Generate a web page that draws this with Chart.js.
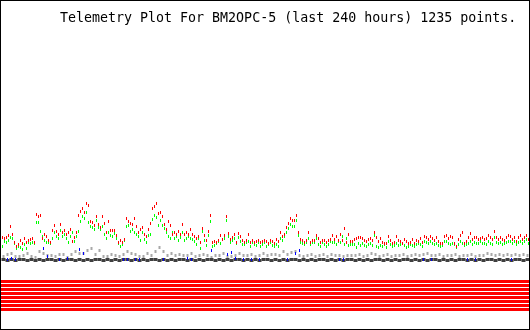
<!DOCTYPE html>
<html>
<head>
<meta charset="utf-8">
<script src="https://cdn.jsdelivr.net/npm/chart.js@4.4.1/dist/chart.umd.min.js"></script>
<style>
    html, body { margin: 0; padding: 0; background: #fff; }
    #frame {
        position: relative;
        width: 530px;
        height: 330px;
        box-sizing: border-box;
        border: 1px solid #000;
        background: #fff;
    }
    #chart-box { position: absolute; left: 0; top: 0; width: 528px; height: 328px; }
    #plot-title {
        position: absolute;
        left: 59px;
        top: 9px;
        font-family: "DejaVu Sans Mono", monospace;
        font-size: 13.3px;
        line-height: 16px;
        color: #000;
        white-space: pre;
    }
</style>
</head>
<body>
<div id="frame">
    <div id="chart-box"><canvas id="telemetry-chart"></canvas></div>
    <div id="plot-title">Telemetry Plot For BM2OPC-5 (last 240 hours) 1235 points.</div>
</div>
<script>
const HOURS = 240;

// analog channel 1 (red)
const redValues = [
    91, 90, 91, 93, 102, 94, 86, 82, 84, 88,
    85, 90, 86, 88, 89, 90, 86, 114, 112, 113,
    90, 94, 92, 88, 86, 98, 103, 97, 94, 104,
    96, 98, 94, 96, 99, 87, 91, 96, 113, 117,
    120, 116, 125, 123, 107, 106, 103, 112, 104, 101,
    112, 105, 96, 107, 98, 98, 98, 93, 86, 88,
    86, 89, 110, 107, 105, 104, 110, 102, 96, 99,
    101, 94, 92, 99, 105, 120, 122, 125, 115, 116,
    112, 104, 99, 107, 103, 94, 96, 94, 97, 94,
    104, 94, 96, 94, 99, 94, 92, 90, 92, 86,
    100, 93, 88, 97, 113, 86, 87, 86, 88, 93,
    89, 93, 112, 95, 89, 91, 94, 86, 95, 92,
    88, 86, 88, 94, 86, 88, 86, 87, 88, 86,
    87, 88, 87, 85, 88, 87, 85, 89, 87, 96,
    92, 94, 101, 105, 110, 108, 108, 113, 96, 89,
    88, 86, 88, 96, 86, 88, 88, 93, 90, 86,
    88, 88, 86, 88, 89, 93, 89, 92, 88, 94,
    88, 100, 86, 94, 87, 87, 89, 90, 91, 91,
    90, 88, 87, 89, 90, 88, 96, 91, 87, 90,
    86, 85, 85, 92, 88, 85, 86, 92, 88, 87,
    85, 89, 87, 85, 86, 89, 85, 88, 87, 90,
    86, 92, 91, 89, 92, 90, 88, 91, 87, 85,
    85, 92, 93, 90, 92, 91, 85, 82, 89, 93,
    96, 85, 87, 91, 95, 89, 91, 91, 89, 90,
    91, 89, 90, 93, 91, 89, 97, 91, 89, 91,
    89, 88, 91, 93, 92, 89, 91, 87, 91, 93,
    89, 91, 93, 89
];

// analog channel 2 (green)
const greenValues = [
    82, 87, 86, 88, 91, 90, 85, 80, 82, 81,
    79, 84, 80, 86, 85, 86, 85, 106, 106, 97,
    92, 88, 86, 86, 85, 90, 96, 92, 90, 98,
    92, 94, 90, 86, 92, 96, 87, 92, 97, 107,
    112, 110, 116, 106, 102, 101, 99, 108, 101, 99,
    102, 94, 90, 96, 93, 92, 95, 90, 85, 82,
    84, 88, 102, 103, 97, 99, 96, 94, 92, 88,
    96, 89, 86, 93, 94, 109, 113, 111, 103, 108,
    103, 100, 96, 92, 90, 96, 90, 92, 88, 91,
    96, 88, 90, 92, 90, 89, 87, 84, 90, 80,
    97, 88, 83, 93, 107, 82, 83, 85, 87, 85,
    89, 90, 108, 92, 86, 88, 90, 85, 91, 87,
    84, 84, 86, 87, 82, 86, 84, 83, 86, 82,
    84, 86, 82, 84, 86, 83, 82, 84, 82, 90,
    88, 92, 96, 100, 104, 102, 102, 108, 93, 86,
    85, 84, 86, 90, 84, 86, 86, 90, 84, 82,
    86, 84, 82, 84, 87, 86, 86, 84, 87, 86,
    92, 84, 90, 83, 84, 84, 84, 81, 85, 83,
    85, 83, 82, 84, 85, 83, 93, 82, 81, 83,
    82, 84, 81, 87, 84, 82, 83, 85, 83, 84,
    85, 83, 81, 82, 84, 83, 82, 84, 85, 84,
    82, 87, 86, 85, 87, 85, 84, 85, 83, 82,
    83, 87, 87, 85, 84, 85, 84, 81, 84, 87,
    85, 83, 84, 85, 87, 84, 86, 85, 85, 87,
    85, 85, 84, 87, 85, 84, 91, 86, 85, 86,
    84, 85, 86, 87, 87, 85, 87, 84, 86, 87,
    85, 87, 89, 85
];

// analog channel 3 (gray)
const grayValues = [
    72, 74, 75, 72, 72, 73, 75, 72, 71, 77,
    75, 73, 73, 72, 74, 74, 71, 74, 77, 75,
    75, 78, 80, 74, 78, 72, 72, 74, 73, 72,
    74, 77, 75, 74, 72, 72, 75, 73, 77, 81,
    77, 73, 75, 73, 74, 73, 73, 75, 72, 73,
    74, 73, 71, 73, 73, 75, 72, 72, 73, 75,
    73, 73, 74, 72, 73, 75, 73, 74, 74, 73,
    77, 74, 76, 77, 73, 72, 73, 74, 72, 73,
    74, 72, 74, 73, 73, 72, 73, 73, 73, 74,
    72, 73, 75, 74, 72, 73, 74, 72, 73, 73,
    74, 72, 73, 74, 73, 74, 75, 73, 73, 74,
    72, 73, 73, 74, 72, 73, 73, 74, 72, 73,
    73, 75, 74, 73, 74, 73, 74, 73, 74, 73,
    74, 73
];

// analog channel 4 (black)
const blackValues = [
    69, 68, 69, 68, 69, 69, 68, 69, 68, 69,
    68, 69, 69, 68, 69, 68, 69, 69, 68, 69,
    68, 69, 68, 69, 69, 68, 69, 68, 69, 68,
    69, 69, 68, 69, 68, 69, 68, 69, 69, 68,
    69, 68, 69, 68, 69, 69, 68, 69, 68, 69,
    68, 69, 69, 68, 69, 68, 69, 68, 69, 69,
    68, 69, 68, 69, 68, 69, 69, 68, 69, 68,
    69, 68, 69, 69, 68, 69, 68, 69, 68, 69,
    69, 68, 69, 68, 69, 68, 69, 69, 68, 69,
    68, 69, 68, 69, 69, 68, 69, 68, 69, 68,
    69, 69, 68, 69, 68, 69, 68, 69, 69, 68,
    69, 68, 69, 68, 69, 69, 68, 69, 68, 69,
    68, 69, 69, 68, 69, 68, 69, 68, 69, 69,
    68, 69
];

// analog channel 5 (blue), null where it hides under channel 4
const blueValues = [
    null, 69, 70, 69, null, null, null, null, null, null,
    80, 72, null, null, 69, null, 70, null, null, 79,
    75, null, null, null, null, null, null, null, null, null,
    69, 69, null, 69, 69, null, null, null, null, null,
    69, null, null, null, null, null, 70, 69, null, null,
    null, null, 78, null, null, null, 74, 76, 70, null,
    69, null, 69, null, 69, null, null, null, null, null,
    null, 69, null, 75, 78, null, null, null, null, null,
    null, null, null, null, 69, 69, null, null, null, null,
    null, null, null, null, null, null, null, null, null, null,
    null, null, null, null, null, 69, null, 69, null, null,
    null, null, null, null, null, null, 69, null, 69, null,
    null, null, null, null, null, null, null, 69, null, null,
    null, null
];

// digital channels B1..B8
const bitLabels = ['B1', 'B2', 'B3', 'B4', 'B5', 'B6', 'B7', 'B8'];
const bitValues = [1, 1, 1, 1, 1, 1, 1, 1];

// one plot pixel expressed in hours, used to centre marks on pixel columns
const PX_HOURS = HOURS / 528;

function toPoints(values) {
    const step = HOURS / values.length;
    return values.map((v, i) => ({ x: (i + 0.5) * step + PX_HOURS / 2, y: v }));
}

function markStyle(color, width) {
    return {
        pointStyle: 'line',
        pointRotation: 90,
        pointRadius: 1.5,
        pointHoverRadius: 1.5,
        pointBorderWidth: width,
        pointBorderColor: color,
        pointBackgroundColor: color,
        showLine: false
    };
}

// bit rows sit below the analog traces, one 4 unit row each
function bitDataset(label, value, index) {
    const level = 47 - index * 4;
    return {
        label: label,
        data: [{ x: 0, y: level }, { x: HOURS, y: level }],
        showLine: true,
        borderColor: value ? '#ff0000' : '#ffffff',
        borderWidth: 3,
        borderCapStyle: 'butt',
        pointRadius: 0
    };
}

const datasets = [
    Object.assign({ label: 'A1', data: toPoints(redValues) }, markStyle('#ff0000', 1)),
    Object.assign({ label: 'A2', data: toPoints(greenValues) }, markStyle('#00ff00', 1)),
    Object.assign({ label: 'A5', data: toPoints(blueValues) }, markStyle('#0000ff', 1)),
    Object.assign({ label: 'A4', data: toPoints(blackValues) }, markStyle('#404040', 4)),
    Object.assign({ label: 'A3', data: toPoints(grayValues) }, markStyle('#a8a8a8', 2))
];
bitLabels.forEach((label, i) => datasets.push(bitDataset(label, bitValues[i], i)));

const ctx = document.getElementById('telemetry-chart').getContext('2d');
new Chart(ctx, {
    type: 'scatter',
    data: { datasets: datasets },
    options: {
        responsive: true,
        maintainAspectRatio: false,
        animation: false,
        events: [],
        layout: { autoPadding: false, padding: { top: 30, left: 0, right: 0, bottom: 0 } },
        plugins: {
            legend: { display: false },
            tooltip: { enabled: false },
            title: { display: false }
        },
        scales: {
            x: { type: 'linear', min: 0, max: HOURS, display: false },
            y: { type: 'linear', min: -0.5, max: 297.5, display: false }
        }
    }
});
</script>
</body>
</html>
